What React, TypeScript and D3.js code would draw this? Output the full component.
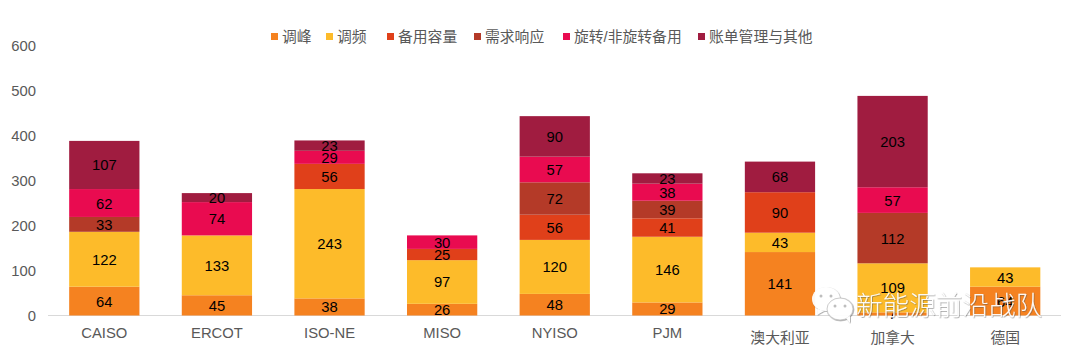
import React from "react";
import * as d3 from "d3";

const categories = ["CAISO", "ERCOT", "ISO-NE", "MISO", "NYISO", "PJM", "澳大利亚", "加拿大", "德国"];
const seriesNames = ["调峰", "调频", "备用容量", "需求响应", "旋转/非旋转备用", "账单管理与其他"];
const seriesColors = ["#F58220", "#FDBB2A", "#E0401A", "#B43A28", "#E90B50", "#A01C40"];
const peak = [64, 45, 38, 26, 48, 29, 141, 7, 64];
const regulation = [122, 133, 243, 97, 120, 146, 43, 109, 43];
const capacity = [0, 0, 56, 25, 56, 41, 90, 0, 0];
const demandResponse = [33, 0, 0, 0, 72, 39, 0, 112, 0];
const spinning = [62, 74, 29, 30, 57, 38, 0, 57, 0];
const billing = [107, 20, 23, 0, 90, 23, 68, 203, 0];
const seriesValues = [peak, regulation, capacity, demandResponse, spinning, billing];
const yTicks = [0, 100, 200, 300, 400, 500, 600];
const legendX = [271, 326, 387, 474, 563, 698];
const watermark = "新能源前沿战队";

const FONT = "Arial, 'Liberation Sans', 'Noto Sans CJK SC', sans-serif";

export default function App() {
  const x = d3.scaleBand<string>().domain(categories).range([48, 1061.5]).paddingInner(0.376).paddingOuter(0.188);
  const y = d3.scaleLinear().domain([0, 600]).range([315.5, 45.5]);
  const rows = categories.map((c, i) => {
    const row: Record<string, number | string> = { c };
    seriesNames.forEach((s, k) => (row[s] = seriesValues[k][i]));
    return row;
  });
  const stacked = d3.stack<any>().keys(seriesNames)(rows);
  return (
    <svg
      width={1080}
      height={354}
      style={{ position: "absolute", left: 0, top: 0, background: "#fff", fontFamily: FONT }}
    >
      <defs>
        <filter id="wm" x="-10%" y="-30%" width="120%" height="160%">
          <feDropShadow dx="0.6" dy="0.6" stdDeviation="0.6" floodColor="#555" floodOpacity="0.75" />
        </filter>
      </defs>
      {yTicks.map((t) => (
        <text key={t} x={36} y={y(t) + 5} textAnchor="end" fontSize={14.8} fill="#595959">
          {t}
        </text>
      ))}
      <line x1={48} x2={1061} y1={315.5} y2={315.5} stroke="#D9D9D9" />
      {stacked.map((layer, k) => (
        <g key={seriesNames[k]}>
          {layer.map((d, i) =>
            d[1] - d[0] > 0 ? (
              <g key={categories[i]}>
                <rect
                  x={x(categories[i])}
                  y={y(d[1])}
                  width={x.bandwidth()}
                  height={y(d[0]) - y(d[1])}
                  fill={seriesColors[k]}
                />
                <text
                  x={x(categories[i])! + x.bandwidth() / 2}
                  y={(y(d[0]) + y(d[1])) / 2 + 5.5}
                  textAnchor="middle"
                  fontSize={14.8}
                  fill="#000"
                >
                  {d[1] - d[0]}
                </text>
              </g>
            ) : null
          )}
        </g>
      ))}
      {categories.map((c) => (
        <text
          key={c}
          x={x(c)! + x.bandwidth() / 2}
          y={c === "PJM" || c.length === 5 || c.length === 6 || c === "MISO" ? 338 : 343}
          textAnchor="middle"
          fontSize={14.8}
          fill="#595959"
        >
          {c}
        </text>
      ))}
      {seriesNames.map((s, k) => (
        <g key={s}>
          <rect x={legendX[k]} y={33} width={7} height={7} fill={seriesColors[k]} />
          <text x={legendX[k] + 11} y={42} fontSize={14.8} fill="#595959">
            {s}
          </text>
        </g>
      ))}
      <g opacity={0.95} filter="url(#wm)">
        <ellipse cx={826} cy={299} rx={14} ry={12} fill="#fff" />
        <path d="M818 309 l-1 6 l7 -4 z" fill="#fff" />
        <ellipse cx={840} cy={309} rx={13} ry={11} fill="#fff" stroke="#bbb" strokeWidth={0.8} />
        <path d="M846 318 l4 5 l0 -7 z" fill="#fff" />
        <circle cx={821} cy={296} r={1.5} fill="#bbb" />
        <circle cx={831} cy={296} r={1.5} fill="#bbb" />
        <circle cx={835} cy={306} r={1.5} fill="#bbb" />
        <circle cx={845} cy={306} r={1.5} fill="#bbb" />
        <text x={856} y={315} fontSize={26.6} fill="#fff" fontFamily="'Noto Sans CJK SC', sans-serif" fontWeight={300}>
          {watermark}
        </text>
      </g>
    </svg>
  );
}
